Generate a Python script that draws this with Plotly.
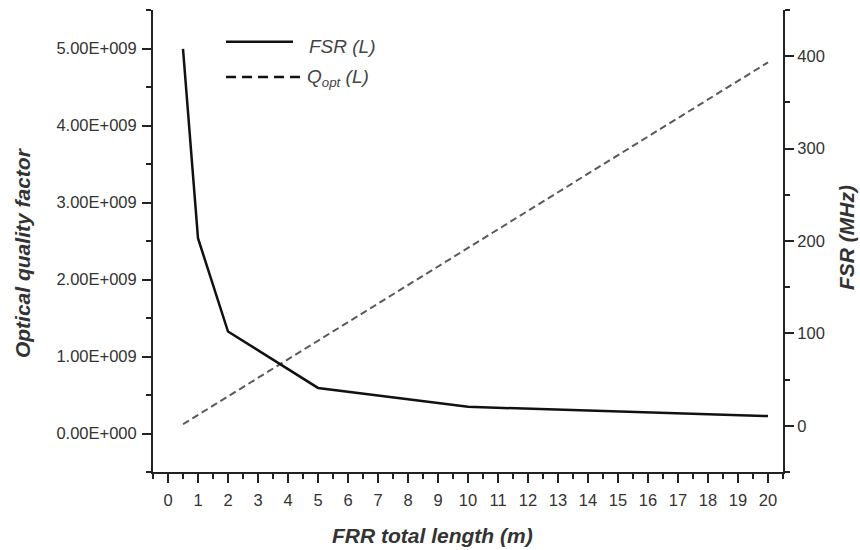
import plotly.graph_objects as go

# ---- data ----
lengths_m = [0.5, 1, 2, 5, 10, 20]
fsr_mhz = [408, 203, 102, 41, 20.5, 10.5]
q_opt = [0.12e9, 0.24e9, 0.48e9, 1.21e9, 2.41e9, 4.82e9]

x_ticks = list(range(0, 21))
q_tickvals = [0, 1e9, 2e9, 3e9, 4e9, 5e9]
q_ticktext = ["0.00E+000", "1.00E+009", "2.00E+009", "3.00E+009", "4.00E+009", "5.00E+009"]
fsr_tickvals = [0, 100, 200, 300, 400]

FONT = "Liberation Sans, Arial, sans-serif"
TXT = "#333333"
AX = "#222222"

fig = go.Figure()
fig.add_trace(go.Scatter(x=lengths_m, y=fsr_mhz, yaxis="y2", mode="lines",
                         line=dict(color="#111111", width=2.5), name="FSR (L)", showlegend=False))
fig.add_trace(go.Scatter(x=lengths_m, y=q_opt, yaxis="y", mode="lines",
                         line=dict(color="#5a5a5a", width=2, dash="7px,4px"),
                         name="Q_opt (L)", showlegend=False))

common = dict(showline=True, linewidth=2, linecolor=AX, ticks="outside", ticklen=9,
              tickwidth=2, tickcolor=AX, showgrid=False, zeroline=False,
              tickfont=dict(family=FONT, size=16.5, color=TXT))
minor_common = dict(ticks="outside", ticklen=5, tickwidth=2, tickcolor=AX, tickmode="linear")

fig.update_layout(
    width=860, height=550,
    margin=dict(l=153, r=77, t=10, b=78),
    paper_bgcolor="white", plot_bgcolor="white",
    font=dict(family=FONT, color=TXT),
    hovermode=False,
    xaxis=dict(range=[-0.5, 20.5], tickmode="array", tickvals=x_ticks,
               minor=dict(tick0=0.5, dtick=1, **minor_common),
               ticklabelstandoff=3, **common),
    yaxis=dict(range=[-0.5e9, 5.5e9], tickmode="array", tickvals=q_tickvals, ticktext=q_ticktext,
               minor=dict(tick0=0.5e9, dtick=1e9, **minor_common),
               ticklabelstandoff=2, **common),
    yaxis2=dict(range=[-50, 450], overlaying="y", side="right", tickmode="array",
                tickvals=fsr_tickvals,
                minor=dict(tick0=50, dtick=100, **minor_common),
                **common),
)

# axis titles
fig.add_annotation(text="<b><i>Optical quality factor</i></b>", xref="paper", yref="paper",
                   x=-0.208, y=0.476, textangle=-90, showarrow=False,
                   font=dict(family=FONT, size=21, color=TXT), xanchor="center", yanchor="middle")
fig.add_annotation(text="<b><i>FSR (MHz)</i></b>", xref="paper", yref="paper",
                   x=1.1016, y=0.5065, textangle=-90, showarrow=False,
                   font=dict(family=FONT, size=21, color=TXT), xanchor="center", yanchor="middle")
fig.add_annotation(text="<b><i>FRR total length (m)</i></b>", xref="paper", yref="paper",
                   x=0.443, y=-0.1364, showarrow=False,
                   font=dict(family=FONT, size=21, color=TXT), xanchor="center", yanchor="middle")

# legend (custom)
fig.add_shape(type="line", xref="paper", yref="paper", x0=0.1159, x1=0.2222, y0=0.9314, y1=0.9314,
              line=dict(color="#111111", width=2.5))
fig.add_shape(type="line", xref="paper", yref="paper", x0=0.1159, x1=0.2333, y0=0.8550, y1=0.8550,
              line=dict(color="#111111", width=2.5, dash="10px,6px"))
fig.add_annotation(text="<i>FSR (L)</i>", xref="paper", yref="paper", x=0.2444, y=0.922,
                   showarrow=False, xanchor="left", yanchor="middle",
                   font=dict(family=FONT, size=19, color="#444444"))
fig.add_annotation(text="<i>Q<sub>opt</sub> (L)</i>", xref="paper", yref="paper", x=0.2413, y=0.852,
                   showarrow=False, xanchor="left", yanchor="middle",
                   font=dict(family=FONT, size=19, color="#444444"))

fig.write_html("out.html", config={"displayModeBar": False, "staticPlot": True},
               post_script="document.body.style.margin='0';document.body.style.overflow='hidden';")
